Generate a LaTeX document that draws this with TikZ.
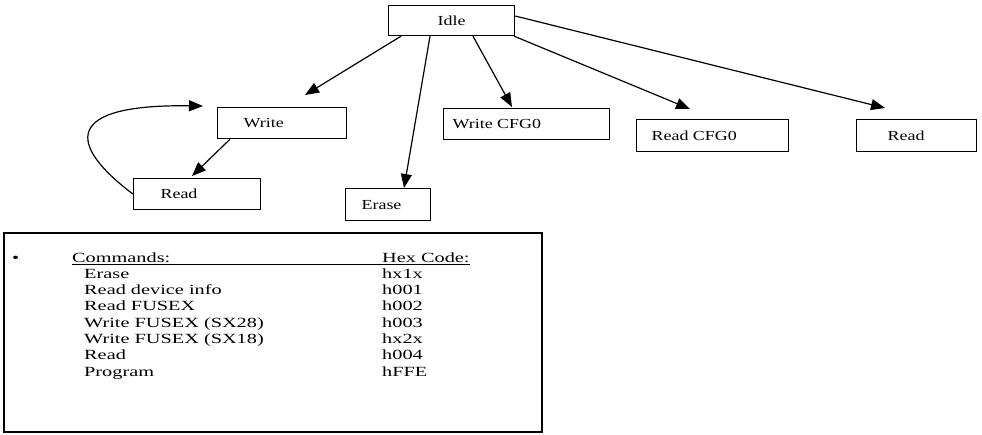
\documentclass[tikz,border=0pt]{standalone}
\usepackage{fontspec}
\setmainfont{Liberation Serif}
\newfontfamily\boxfont{Liberation Serif}[FakeStretch=1.3]
\newfontfamily\listfont{Liberation Serif}[FakeStretch=1.45]
\usetikzlibrary{arrows.meta,calc}

% label inside a state box: fixed width, left padding
\newcommand\lbltext[3]{\makebox[#1pt][l]{\hspace*{#2pt}#3}}

\tikzset{
  state/.style={draw, line width=1.2pt, rectangle, inner sep=0pt,
    anchor=north west, font=\boxfont\fontsize{13.8}{15}\selectfont},
  trans/.style={line width=1.2pt, -{Triangle[length=14pt,width=11pt]}},
  row/.style={anchor=base west, inner sep=0pt,
    font=\listfont\fontsize{14}{16}\selectfont},
}

\begin{document}
\begin{tikzpicture}[x=1pt,y=-1pt]
\useasboundingbox (0,0) rectangle (982,434);

% state boxes
\node[state, minimum width=126pt, minimum height=30pt] (idle) at (388,5) {Idle};
\node[state, minimum height=31pt] (write) at (217,107) {\lbltext{129}{26}{Write}};
\node[state, minimum height=31pt] (readL) at (133,178) {\lbltext{127}{27}{Read}};
\node[state, minimum height=32pt] (erase) at (345,188) {\lbltext{85}{16}{Erase}};
\node[state, minimum height=31pt] (wcfg) at (443,108) {\lbltext{166}{9}{Write CFG0}};
\node[state, minimum height=32pt] (rcfg) at (636,119) {\lbltext{152}{15}{Read CFG0}};
\node[state, minimum height=32pt] (readR) at (856,119) {\lbltext{120}{31}{Read}};

% transitions out of Idle
\draw[trans] ($(idle.south west)+(13,0)$) -- ($(write.north west)+(88,-12)$);
\draw[trans] ($(idle.south west)+(42,0)$) -- ($(erase.north west)+(59,0)$);
\draw[trans] ($(idle.south west)+(85,0)$) -- ($(wcfg.north west)+(69,-1)$);
\draw[trans] ($(idle.south east)+(-1,0)$) -- ($(rcfg.north west)+(54,-10)$);
\draw[trans] ($(idle.north east)+(0,11)$) -- ($(readR.north west)+(29,-11)$);

% write / read loop
\draw[trans] ($(write.south west)+(13,0)$) -- ($(readL.north west)+(59,-2)$);
\draw[trans] (readL.west) .. controls (68,145) and (62,104) .. ($(write.north west)+(-14,-1)$);

% command table
\draw[line width=1.1pt] (4,233) rectangle (542,432);
\node[row] (bullet) at (12,262) {\textbullet};
\node[row] (cmdhead) at (72,262) {Commands:};
\node[row] (hexhead) at (382,262) {Hex Code:};
\draw[line width=0.8pt] ($(cmdhead.base west)+(0,2.5)$) -- ($(hexhead.base east)+(0,2.5)$);

\node[row] (c1) at (84,278.3) {Erase};
\node[row] (c2) at (84,294.6) {Read device info};
\node[row] (c3) at (84,310.9) {Read FUSEX};
\node[row] (c4) at (84,327.2) {Write FUSEX (SX28)};
\node[row] (c5) at (84,343.5) {Write FUSEX (SX18)};
\node[row] (c6) at (84,359.8) {Read};
\node[row] (c7) at (84,376.1) {Program};

\node[row] (h1) at (382,278.3) {hx1x};
\node[row] (h2) at (382,294.6) {h001};
\node[row] (h3) at (382,310.9) {h002};
\node[row] (h4) at (382,327.2) {h003};
\node[row] (h5) at (382,343.5) {hx2x};
\node[row] (h6) at (382,359.8) {h004};
\node[row] (h7) at (382,376.1) {hFFE};
\end{tikzpicture}
\end{document}
